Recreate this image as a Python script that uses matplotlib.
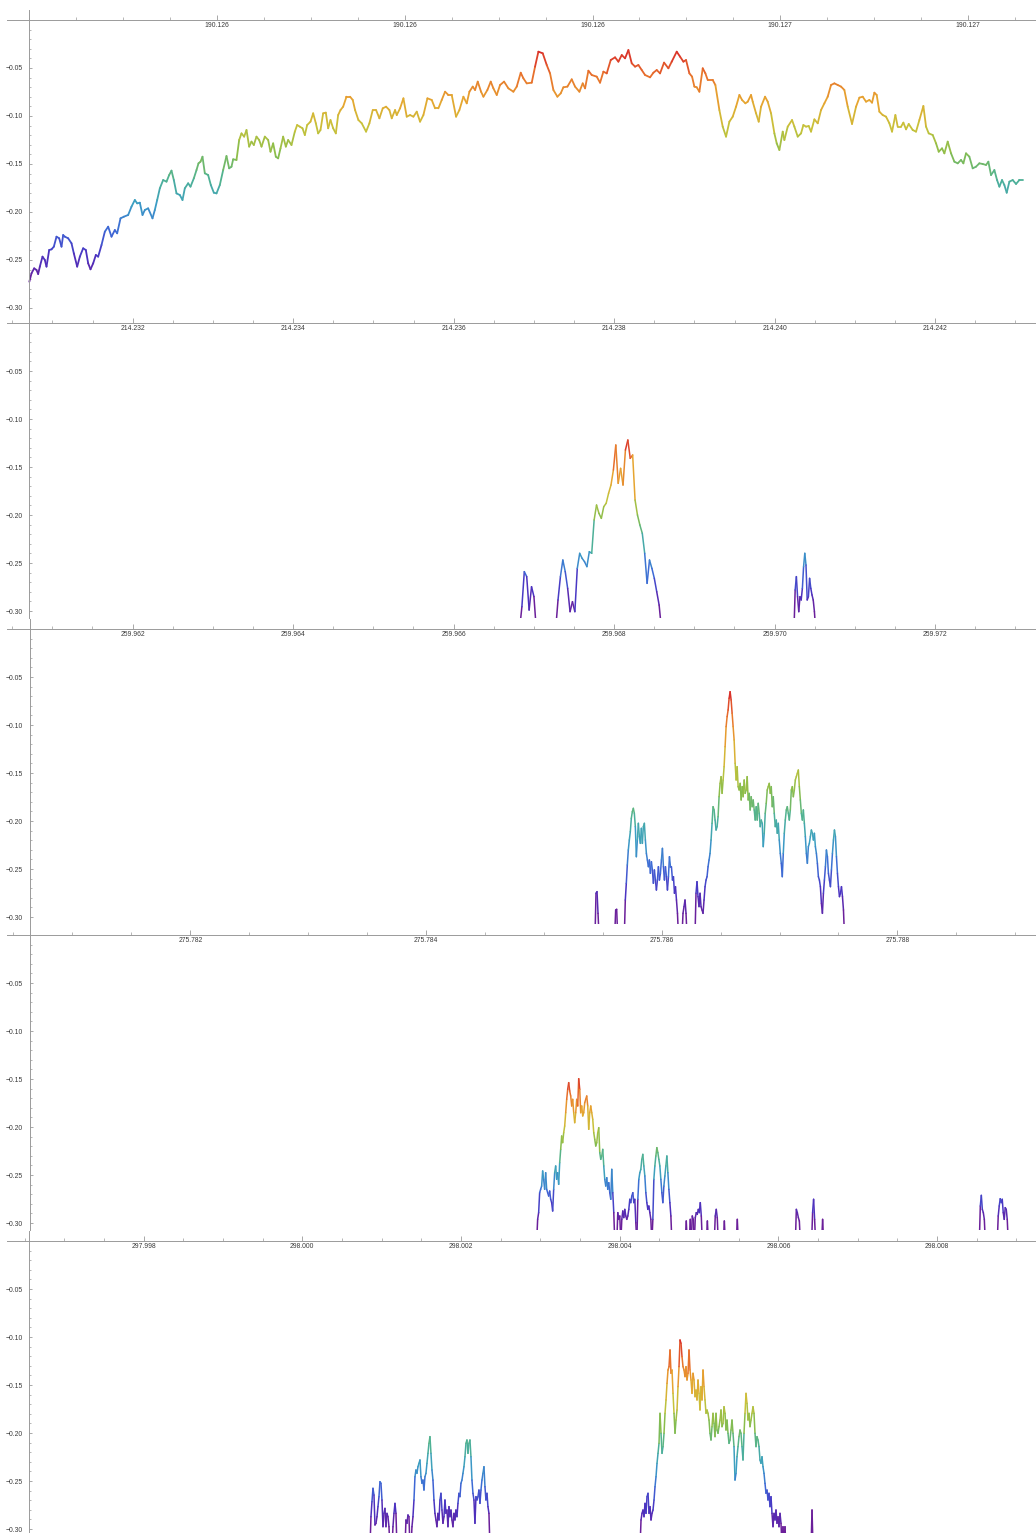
import numpy as np
import matplotlib.pyplot as plt
from matplotlib.collections import LineCollection
from matplotlib.colors import LinearSegmentedColormap, Normalize
from matplotlib.patches import Rectangle
from matplotlib.ticker import FixedLocator, FixedFormatter, MultipleLocator, FuncFormatter

B = -0.32  # sample that lies below the plot range (clipped away)

# ---- panel 1: x in micro-units above 190.1262 ----
P1_BASE = 190.1262
P1_DX = [
    0, 1.15, 2.57, 3.82, 4.70, 5.59, 7.01, 8.26, 9.14, 10.56,
    11.81, 13.05, 14.47, 15.89, 17.13, 18.02, 18.91, 20.68, 22.46, 23.70,
    25.48, 26.90, 28.67, 30.09, 31.34, 32.58, 34.00, 35.42, 36.66, 38.44,
    40.21, 41.99, 43.76, 45.54, 46.78, 48.56, 50.33, 52.64, 54.42, 56.19,
    57.43, 58.85, 60.28, 61.52, 63.29, 65.60, 66.84, 68.09, 69.51, 71.28,
    73.06, 74.48, 75.72, 76.96, 78.38, 80.16, 81.58, 82.82, 84.60, 85.84,
    87.62, 89.04, 90.10, 91.17, 92.23, 93.48, 95.25, 96.67, 98.27, 99.69,
    101.46, 103.24, 105.01, 106.43, 107.68, 108.57, 110.34, 111.76, 113.00, 114.42,
    115.67, 117.09, 118.33, 119.57, 120.99, 122.41, 123.66, 125.43, 127.21, 128.45,
    129.87, 131.29, 132.53, 133.78, 135.19, 136.62, 137.86, 139.64, 141.41, 142.65,
    144.07, 145.50, 146.74, 147.98, 149.76, 151.18, 152.60, 153.84, 155.08, 156.50,
    157.92, 159.17, 160.41, 161.83, 163.25, 164.49, 165.73, 167.15, 168.93,
    170.84, 172.26, 173.50, 175.28, 177.05, 179.36, 181.14, 182.91, 184.69, 186.46,
    188.24, 190.01, 191.79, 193.03, 194.81, 195.70, 197.47, 199.25, 201.02, 202.80,
    204.57, 206.35, 208.12, 209.90, 212.03, 214.34, 216.11, 217.89, 219.66, 221.44,
    223.21, 224.99, 227.30, 229.07, 231.20, 232.98, 234.40, 236.17, 237.42, 238.84,
    240.61, 241.86, 243.99, 245.76, 247.18, 248.96, 250.73, 252.86, 255.17, 257.83,
    259.61, 261.74, 263.16, 264.94, 267.60, 269.37, 271.15, 273.46, 275.59, 277.36,
    279.14, 281.27, 283.04, 284.46, 286.60, 288.90, 290.68, 292.99, 294.76, 296.01,
    297.78, 299.56, 302.22, 304.00, 305.77, 307.55, 309.68, 311.99, 313.76, 315.54,
    317.31, 319.09, 320.86, 322.64, 324.41, 326.19, 327.96, 330.63, 332.40, 334.18,
    335.95, 338.08, 340.39, 342.17, 344.83, 346.61, 348.38,
    349.80, 351.58, 353.00, 354.24, 355.48, 356.90, 358.68, 360.10, 361.34, 364.00,
    365.42, 367.55, 369.33, 371.10, 372.88, 374.66, 376.43, 378.21, 379.63, 381.40,
    382.64, 384.42, 385.31, 387.08, 388.50, 389.75, 391.88, 393.30, 395.07, 396.85,
    398.09, 399.51, 401.29, 402.17, 403.95, 406.26, 407.50, 409.28, 411.05, 412.29,
    413.71, 415.13, 416.38, 418.15, 419.93, 421.70, 423.48, 425.25, 427.03, 428.81,
    430.58, 432.36, 434.13, 435.91, 438.21, 440.35, 442.12, 443.90, 445.67, 447.45,
    448.87, 450.11, 451.35, 452.77, 454.55, 456.32, 458.10, 459.52, 461.30, 462.54,
    464.32, 465.56, 466.98, 468.40, 470.53, 472.30, 474.08, 476.21, 477.63, 479.05,
    481.18, 482.96, 484.38, 486.15, 487.40, 489.17, 490.95, 492.72, 494.50, 496.27,
    497.52, 498.93, 500.71, 502.48, 504.26, 506.04, 507.81, 509.59, 510.83, 512.25,
    514.03, 515.45, 516.69, 518.11, 519.35, 520.60, 522.02, 523.79, 525.57, 527.34,
    529.47,
]
P1_Y = [
    -0.2726, -0.2639, -0.2587, -0.2604, -0.2646, -0.2569, -0.2465, -0.2500, -0.2569, -0.2396,
    -0.2389, -0.2361, -0.2257, -0.2274, -0.2361, -0.2240, -0.2257, -0.2274, -0.2326, -0.2431,
    -0.2569, -0.2465, -0.2378, -0.2396, -0.2535, -0.2597, -0.2535, -0.2448, -0.2465, -0.2344,
    -0.2205, -0.2153, -0.2257, -0.2188, -0.2222, -0.2066, -0.2049, -0.2031, -0.1944, -0.1875,
    -0.1910, -0.1903, -0.2031, -0.1979, -0.1962, -0.2066, -0.1979, -0.1875, -0.1753, -0.1667,
    -0.1684, -0.1615, -0.1569, -0.1667, -0.1806, -0.1823, -0.1875, -0.1753, -0.1701, -0.1736,
    -0.1649, -0.1563, -0.1493, -0.1476, -0.1424, -0.1597, -0.1615, -0.1719, -0.1799, -0.1806,
    -0.1719, -0.1563, -0.1417, -0.1545, -0.1528, -0.1451, -0.1458, -0.1250, -0.1181, -0.1215,
    -0.1146, -0.1319, -0.1267, -0.1302, -0.1215, -0.1250, -0.1319, -0.1215, -0.1250, -0.1372,
    -0.1285, -0.1424, -0.1441, -0.1337, -0.1215, -0.1319, -0.1250, -0.1302, -0.1163, -0.1094,
    -0.1111, -0.1128, -0.1198, -0.1094, -0.1059, -0.0972, -0.1076, -0.1181, -0.1146, -0.0972,
    -0.0965, -0.1128, -0.1042, -0.1128, -0.1181, -0.0990, -0.0938, -0.0903, -0.0799,
    -0.0799, -0.0833, -0.0938, -0.1042, -0.1076, -0.1163, -0.1076, -0.0938, -0.0938, -0.1024,
    -0.0920, -0.0903, -0.0938, -0.1024, -0.0938, -0.0990, -0.0920, -0.0816, -0.1007, -0.0990,
    -0.1007, -0.0955, -0.1059, -0.0990, -0.0816, -0.0833, -0.0920, -0.0920, -0.0833, -0.0747,
    -0.0781, -0.0781, -0.1007, -0.0938, -0.0799, -0.0868, -0.0747, -0.0694, -0.0729, -0.0642,
    -0.0747, -0.0799, -0.0729, -0.0642, -0.0712, -0.0781, -0.0677, -0.0642, -0.0712, -0.0747,
    -0.0694, -0.0549, -0.0608, -0.0660, -0.0653, -0.0486, -0.0330, -0.0347, -0.0469, -0.0556,
    -0.0729, -0.0799, -0.0764, -0.0701, -0.0694, -0.0618, -0.0694, -0.0747, -0.0660, -0.0712,
    -0.0528, -0.0573, -0.0590, -0.0653, -0.0538, -0.0556, -0.0417, -0.0389, -0.0434, -0.0365,
    -0.0399, -0.0313, -0.0451, -0.0486, -0.0469, -0.0521, -0.0573, -0.0597, -0.0549, -0.0521,
    -0.0556, -0.0444, -0.0503, -0.0434, -0.0330, -0.0382, -0.0434,
    -0.0417, -0.0556, -0.0590, -0.0694, -0.0701, -0.0747, -0.0503, -0.0556, -0.0625, -0.0625,
    -0.0677, -0.0938, -0.1111, -0.1215, -0.1059, -0.1007, -0.0903, -0.0781, -0.0833, -0.0868,
    -0.0851, -0.0781, -0.0851, -0.0972, -0.1059, -0.0903, -0.0799, -0.0851, -0.0972, -0.1181,
    -0.1285, -0.1354, -0.1163, -0.1250, -0.1111, -0.1042, -0.1111, -0.1215, -0.1181, -0.1094,
    -0.1111, -0.1104, -0.1163, -0.1035, -0.1076, -0.0938, -0.0868, -0.0799, -0.0677, -0.0660,
    -0.0677, -0.0694, -0.0729, -0.0903, -0.1083, -0.0903, -0.0809, -0.0799, -0.0851, -0.0833,
    -0.0861, -0.0757, -0.0781, -0.0955, -0.0990, -0.1007, -0.1076, -0.1163, -0.0990, -0.1111,
    -0.1111, -0.1069, -0.1139, -0.1083, -0.1146, -0.1163, -0.1042, -0.0896, -0.1111, -0.1181,
    -0.1198, -0.1285, -0.1372, -0.1337, -0.1389, -0.1267, -0.1389, -0.1476, -0.1493, -0.1458,
    -0.1493, -0.1389, -0.1424, -0.1545, -0.1528, -0.1493, -0.1500, -0.1510, -0.1476, -0.1615,
    -0.1563, -0.1667, -0.1736, -0.1667, -0.1719, -0.1799, -0.1684, -0.1667, -0.1708, -0.1667,
    -0.1667,
]
P1_TICKS = [100, 200, 300, 400, 500]
P1_TICK_LABELS = ['190.126', '190.126', '190.126', '190.127', '190.127']

# ---- panels 2-5: x in micro-units from a base; segments = (start, step, values) ----
P2_BASE = 214.232
P2_SEGMENTS = [
    (4820, 30, [B, -0.2955, -0.2590, -0.2642, -0.2990, -0.2747, -0.2850, B]),
    (5270, 30, [B, -0.2885, -0.2642, -0.2469, -0.2590, -0.2764, -0.3007, -0.2903, -0.3007,
                -0.2556, -0.2399, -0.2451, -0.2486, -0.2538, -0.2382, -0.2399, -0.2052,
                -0.1896, -0.1983, -0.2035, -0.1913, -0.1878, -0.1774, -0.1688, -0.1531,
                -0.1271, -0.1670, -0.1514, -0.1688, -0.1323, -0.1219, -0.1410, -0.1375,
                -0.1844, -0.2000, -0.2104, -0.2191, -0.2399, -0.2712, -0.2469, -0.2556,
                -0.2660, -0.2799, -0.2938, B]),
    (8240, 15, [B, -0.2781, -0.2642, -0.2851, -0.3007, -0.2851, -0.2885, -0.2764, -0.2538,
                -0.2399, -0.2521, -0.2885, -0.2851, -0.2660, -0.2764, -0.2833, -0.2885,
                -0.3007, B]),
]

P3_BASE = 259.962
P3_SEGMENTS = [
    (5763, 12.5, [B, -0.2753, -0.2736, -0.2962, B]),
    (6008, 12.5, [B, -0.2927, -0.2920, B]),
    (6128, 12.5, [B,
        -0.2823, -0.2649, -0.2458, -0.2302, -0.2198, -0.2111, -0.1972, -0.1903, -0.1868, -0.1920,
        -0.2059, -0.2372, -0.2198, -0.2024, -0.2163, -0.2233, -0.2076, -0.2233, -0.2059, -0.2024,
        -0.2198, -0.2337, -0.2406, -0.2476, -0.2406, -0.2545, -0.2424, -0.2510, -0.2649, -0.2510,
        -0.2615, -0.2719, -0.2615, -0.2476, -0.2615, -0.2545, -0.2406, -0.2285, -0.2476, -0.2615,
        -0.2476, -0.2580, -0.2719, -0.2580, -0.2372, -0.2476, -0.2476, -0.2615, -0.2580, -0.2753,
        -0.2684, -0.2823, -0.2962, B]),
    (6847, 12.5, [B, -0.2962, -0.2892, -0.2823, -0.2962, B]),
    (7009, 12.5, [B,
        -0.2753, -0.2632, -0.2788, -0.2892, -0.2753, -0.2892, -0.2927, -0.2962, -0.2823, -0.2684,
        -0.2615, -0.2580, -0.2476, -0.2406, -0.2337, -0.2198, -0.2024, -0.1851, -0.1885, -0.1990,
        -0.2094, -0.2059, -0.1955, -0.1747, -0.1608, -0.1538, -0.1712, -0.1573, -0.1434, -0.1226,
        -0.1017, -0.0913, -0.0844, -0.0722, -0.0653, -0.0740, -0.0878, -0.1017, -0.1156, -0.1399,
        -0.1573, -0.1434, -0.1642, -0.1677, -0.1608, -0.1781, -0.1642, -0.1747, -0.1573, -0.1712,
        -0.1677, -0.1538, -0.1781, -0.1712, -0.1885, -0.1747, -0.1851, -0.1781, -0.1885, -0.1990,
        -0.1851, -0.1990, -0.1816, -0.1920, -0.2059, -0.1990, -0.2024, -0.2267, -0.2128, -0.1920,
        -0.1816, -0.1677, -0.1642, -0.1608, -0.1712, -0.1642, -0.1851, -0.1747, -0.1920, -0.2059,
        -0.1990, -0.2128, -0.2024, -0.2198, -0.2337, -0.2441, -0.2580, -0.2337, -0.2128, -0.1990,
        -0.1885, -0.1851, -0.1920, -0.1990, -0.1885, -0.1677, -0.1642, -0.1747, -0.1677, -0.1573,
        -0.1538, -0.1503, -0.1469, -0.1642, -0.1781, -0.1920, -0.1990, -0.1885, -0.2024, -0.2163,
        -0.2337, -0.2441, -0.2267, -0.2233, -0.2163, -0.2094, -0.2128, -0.2198, -0.2128, -0.2267,
        -0.2337, -0.2441, -0.2580, -0.2615, -0.2684, -0.2858, -0.2962, -0.2753, -0.2615, -0.2476,
        -0.2302, -0.2372, -0.2545, -0.2615, -0.2684, -0.2510, -0.2337, -0.2198, -0.2094, -0.2163,
        -0.2372, -0.2545, -0.2684, -0.2788, -0.2753, -0.2684, -0.2788, -0.2927, B]),
]

P4_BASE = 275.786
P4_SEGMENTS = [
    (-1061, 8.5, [B,
        -0.2962, -0.2892, -0.2684, -0.2649, -0.2615, -0.2458, -0.2545, -0.2649, -0.2476, -0.2649,
        -0.2684, -0.2719, -0.2667, -0.2753, -0.2788, -0.2875, -0.2649, -0.2476, -0.2406, -0.2545,
        -0.2476, -0.2597, -0.2372, -0.2233, -0.2094, -0.2163, -0.2059, -0.1990, -0.1851, -0.1712,
        -0.1608, -0.1538, -0.1625, -0.1677, -0.1781, -0.1712, -0.1851, -0.1955, -0.1851, -0.1712,
        -0.1781, -0.1497, -0.1608, -0.1851, -0.1781, -0.1885, -0.1851, -0.1747, -0.1712, -0.1677,
        -0.1781, -0.2024, -0.1851, -0.1781, -0.1851, -0.1920, -0.2059, -0.2128, -0.2198, -0.2163,
        -0.2059, -0.2007, -0.2267, -0.2337, -0.2302, -0.2233, -0.2406, -0.2545, -0.2615, -0.2528,
        -0.2649, -0.2580, -0.2684, -0.2753, -0.2441, -0.2684, -0.2892, B, B, B,
        -0.2892, -0.2962, -0.2927, B, -0.2962, -0.2875, -0.2944, -0.2858, -0.2927, -0.2962,
        -0.2927, -0.2858, -0.2753, -0.2788, -0.2719, -0.2684, -0.2788, -0.2753, -0.2997, B,
        -0.2753, -0.2545, -0.2476, -0.2441, -0.2337, -0.2285, -0.2406, -0.2510, -0.2684, -0.2788,
        -0.2858, -0.2823, -0.2892, -0.2962, B, -0.2962, -0.2545, -0.2406, -0.2302, -0.2215,
        -0.2267, -0.2337, -0.2406, -0.2545, -0.2684, -0.2788, -0.2615, -0.2510, -0.2406, -0.2302,
        -0.2476, -0.2649, -0.2788, -0.2927, B]),
    (200, 8.5, [B, -0.2979, B]),
    (234, 8.5, [B, -0.2962, B, -0.2927, -0.2962, B, -0.2944, -0.2892, -0.2910, -0.2858,
                -0.2892, -0.2788, -0.2927, B]),
    (379, 8.5, [B, -0.2979, B]),
    (446, 8.5, [B, -0.2927, -0.2858, -0.2944, B]),
    (523, 8.5, [B, -0.2979, B]),
    (633, 8.5, [B, -0.2962, B]),
    (1134, 8.5, [B, -0.2858, -0.2892, -0.2944, -0.2979, B]),
    (1272, 8.5, [B, -0.2892, -0.2753, -0.2962, B]),
    (1357, 8.5, [B, -0.2962, B]),
    (2695, 8.5, [B, -0.2823, -0.2712, -0.2858, -0.2892, -0.2962, B]),
    (2847, 8.5, [B, -0.2927, -0.2823, -0.2747, -0.2788, -0.2753, -0.2892, -0.2962, -0.2840,
                 -0.2858, -0.2962, B]),
]

P5_BASE = 298.002
P5_SEGMENTS = [
    (-1147, 12.6, [B,
        -0.2872, -0.2715, -0.2576, -0.2646, -0.2958, -0.2941, -0.2872, -0.2767, -0.2663, -0.2507,
        -0.2524, -0.2698, -0.2976, -0.2837, -0.2785, -0.2976, -0.2837, -0.2872, -0.2976, B,
        B, B, -0.2976, -0.2837, -0.2733, -0.2837, B, B, B, B,
        B, B, B, B, B, -0.2906, -0.2941, -0.2854, -0.2872, B,
        B, -0.2976, -0.2872, -0.2698, -0.2455, -0.2385, -0.2420, -0.2351, -0.2316, -0.2281,
        -0.2455, -0.2524, -0.2490, -0.2594, -0.2455, -0.2420, -0.2316, -0.2212, -0.2108, -0.2038,
        -0.2212, -0.2385, -0.2490, -0.2698, -0.2837, -0.2906, -0.2976, -0.2837, -0.2906, -0.2698,
        -0.2628, -0.2802, -0.2941, -0.2872, -0.2698, -0.2837, -0.2802, -0.2976, -0.2767, -0.2872,
        -0.2802, -0.2906, -0.2976, -0.2837, -0.2906, -0.2802, -0.2872, -0.2733, -0.2628, -0.2663,
        -0.2524, -0.2490, -0.2420, -0.2351, -0.2247, -0.2108, -0.2073, -0.2212, -0.2108, -0.2073,
        -0.2247, -0.2490, -0.2628, -0.2698, -0.2941, -0.2663, -0.2698, -0.2663, -0.2594, -0.2733,
        -0.2594, -0.2490, -0.2420, -0.2351, -0.2559, -0.2698, -0.2628, -0.2767, -0.2837, B]),
    (2256, 12.6, [B,
        -0.2906, -0.2837, -0.2802, -0.2872, -0.2733, -0.2837, -0.2663, -0.2628, -0.2837, -0.2767,
        -0.2906, -0.2837, -0.2802, -0.2698, -0.2559, -0.2455, -0.2316, -0.2212, -0.2108, -0.1795,
        -0.2003, -0.2212, -0.2142, -0.2003, -0.1795, -0.1656, -0.1483, -0.1344, -0.1309, -0.1135,
        -0.1378, -0.1344, -0.1587, -0.1795, -0.2003, -0.1865, -0.1760, -0.1517, -0.1309, -0.1031,
        -0.1066, -0.1205, -0.1309, -0.1344, -0.1413, -0.1309, -0.1448, -0.1378, -0.1135, -0.1344,
        -0.1448, -0.1587, -0.1378, -0.1448, -0.1622, -0.1552, -0.1656, -0.1448, -0.1587, -0.1760,
        -0.1517, -0.1656, -0.1344, -0.1517, -0.1656, -0.1795, -0.1760, -0.1795, -0.1865, -0.2003,
        -0.2073, -0.1934, -0.1795, -0.1899, -0.2038, -0.1795, -0.1969, -0.2003, -0.1934, -0.1865,
        -0.1760, -0.1934, -0.1899, -0.1726, -0.1795, -0.1969, -0.1865, -0.2003, -0.2108, -0.2073,
        -0.1969, -0.1865, -0.2003, -0.2142, -0.2490, -0.2420, -0.2247, -0.2142, -0.2038, -0.1969,
        -0.2003, -0.2142, -0.2281, -0.2003, -0.1795, -0.1587, -0.1691, -0.1865, -0.1795, -0.1934,
        -0.1865, -0.1795, -0.1726, -0.1795, -0.2003, -0.2142, -0.2038, -0.2073, -0.2142, -0.2281,
        -0.2316, -0.2247, -0.2351, -0.2420, -0.2524, -0.2628, -0.2594, -0.2698, -0.2628, -0.2767,
        -0.2663, -0.2837, -0.2976, -0.2837, -0.2906, -0.2802, -0.2941, -0.2872, -0.2976, -0.2837,
        -0.2941, B, -0.2976, B, -0.2976, B]),
    (4411, 12.6, [B, -0.2802, B]),
]

# plot range per panel, in the same micro-units: (left edge, y-axis crossing, right edge)
P1_RANGE = (-11.9, 0.0, 536.2)
P2_RANGE = (-1566, -1286, 11256)
P3_RANGE = (-1564, -1283, 11258)
P4_RANGE = (-5555, -5364, 3176)
P5_RANGE = (-5721, -5438, 7246)

Y_MAJOR = [-0.05, -0.10, -0.15, -0.20, -0.25, -0.30]
Y_MAJOR_LABELS = ['\u22120.05', '\u22120.10', '\u22120.15', '\u22120.20', '\u22120.25', '\u22120.30']

RAINBOW = ['#6b1f9a', '#4a33c2', '#3d6ad6', '#3b9ec4', '#4fb294', '#88bd4c',
           '#c7c23a', '#e6a630', '#e8732c', '#d8282a']
cmap = LinearSegmentedColormap.from_list('mma_rainbow', RAINBOW)

W, H = 1036, 1533
PANEL_TOPS = [20, 323, 629, 935, 1241]   # pixel row of each panel's y=0 axis
AX_LEFT = 7
PX_PER_Y = 960.0                          # pixels per unit of y
Y_TOP = 10 / PX_PER_Y
Y_BOTTOM = -295 / PX_PER_Y
AXIS_COLOR = '#9a9a9a'
LABEL_COLOR = '#3a3a3a'

plt.rcParams['font.family'] = ['Liberation Sans', 'DejaVu Sans']

fig = plt.figure(figsize=(W / 100, H / 100), dpi=100)


def make_axes(top_px):
    rect = [AX_LEFT / W, 1 - (top_px + 295) / H, (W - AX_LEFT) / W, 305 / H]
    return fig.add_axes(rect)


def draw_line(ax, x, y, vmin, vmax, lw, rng):
    x = np.asarray(x, float)
    y = np.asarray(y, float)
    pts = np.column_stack([x, y])
    segs = np.stack([pts[:-1], pts[1:]], axis=1)
    lc = LineCollection(segs, cmap=cmap, norm=Normalize(vmin, vmax),
                        linewidths=lw, capstyle='round', joinstyle='round')
    lc.set_array((y[:-1] + y[1:]) / 2)
    clip = Rectangle((rng[0], -0.30), rng[2] - rng[0], 0.4, transform=ax.transData)
    lc.set_clip_path(clip)
    ax.add_collection(lc)


def style_axes(ax, rng):
    ax.set_xlim(rng[0], rng[2])
    ax.set_ylim(Y_BOTTOM, Y_TOP)
    ax.patch.set_alpha(0)
    for s in ('top', 'right'):
        ax.spines[s].set_visible(False)
    ax.spines['left'].set_position(('data', rng[1]))
    ax.spines['bottom'].set_position(('data', 0))
    for s in ('left', 'bottom'):
        ax.spines[s].set_color(AXIS_COLOR)
        ax.spines[s].set_linewidth(0.7)
    ax.yaxis.set_major_locator(FixedLocator(Y_MAJOR))
    ax.yaxis.set_major_formatter(FixedFormatter(Y_MAJOR_LABELS))
    ax.yaxis.set_minor_locator(FixedLocator([-0.01 * k for k in range(1, 31) if k % 5]))
    ax.tick_params(axis='x', which='major', direction='in', length=3.6, width=0.6,
                   color=AXIS_COLOR, pad=1.6, labelsize=4.9, labelcolor=LABEL_COLOR)
    ax.tick_params(axis='x', which='minor', direction='in', length=2.2, width=0.5,
                   color=AXIS_COLOR)
    ax.tick_params(axis='y', which='major', direction='in', length=1.8, width=0.6,
                   color=AXIS_COLOR, pad=4.6, labelsize=4.9, labelcolor=LABEL_COLOR)
    ax.tick_params(axis='y', which='minor', direction='in', length=1.2, width=0.5,
                   color=AXIS_COLOR)


# panel 1
ax = make_axes(PANEL_TOPS[0])
style_axes(ax, P1_RANGE)
ax.xaxis.set_major_locator(FixedLocator(P1_TICKS))
ax.xaxis.set_major_formatter(FixedFormatter(P1_TICK_LABELS))
ax.xaxis.set_minor_locator(MultipleLocator(25))
draw_line(ax, P1_DX, P1_Y, min(P1_Y), max(P1_Y), 1.3, P1_RANGE)

# panels 2-5
noisy = [
    (P2_BASE, P2_SEGMENTS, P2_RANGE),
    (P3_BASE, P3_SEGMENTS, P3_RANGE),
    (P4_BASE, P4_SEGMENTS, P4_RANGE),
    (P5_BASE, P5_SEGMENTS, P5_RANGE),
]
for top, (base, segments, rng) in zip(PANEL_TOPS[1:], noisy):
    ax = make_axes(top)
    style_axes(ax, rng)
    ax.xaxis.set_major_locator(MultipleLocator(2000))
    ax.xaxis.set_minor_locator(MultipleLocator(500))
    ax.xaxis.set_major_formatter(FuncFormatter(lambda v, p, b=base: f'{b + v * 1e-6:.3f}'))
    vmax = max(max(vals) for _, _, vals in segments)
    for start, step, vals in segments:
        xs = start + step * np.arange(len(vals))
        draw_line(ax, xs, vals, -0.30, vmax, 1.1, rng)

fig.savefig('out.png', dpi=100)
